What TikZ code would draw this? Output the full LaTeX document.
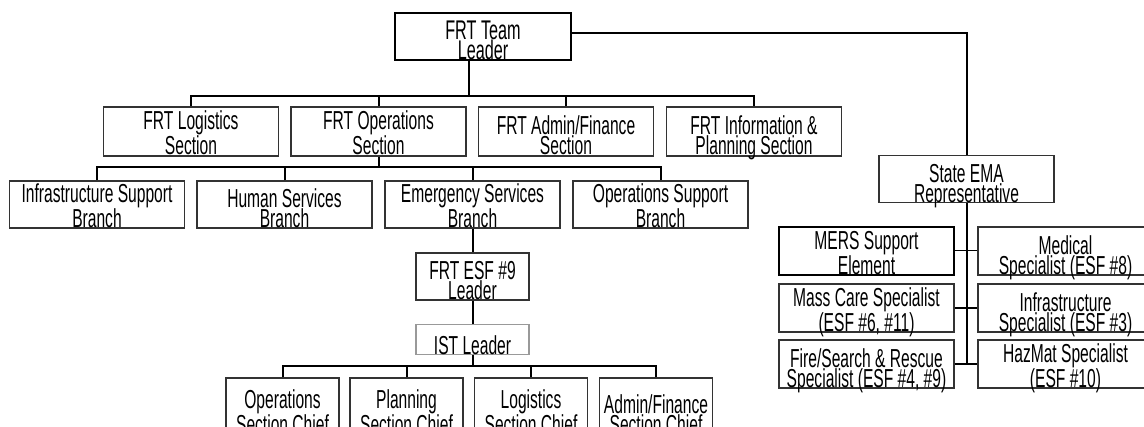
\documentclass[tikz,border=0pt]{standalone}
\usepackage{fontspec}
\setmainfont[FakeStretch=0.6]{Liberation Sans}
\usepackage{tikz}

\begin{document}
\begin{tikzpicture}[x=1pt,y=-1pt,
  unit/.style={draw=black!80,line width=1.3pt,align=center,inner sep=0pt,
    font=\fontsize{26}{17}\selectfont,text height=47pt,text depth=0pt,
    minimum width=175pt,minimum height=47pt},
  small/.style={unit,minimum width=113pt},
  head/.style={unit,draw=black,line width=2.2pt},
  conn/.style={line width=2pt},
  thin/.style={line width=1pt}]
\useasboundingbox (0,0) rectangle (1144,427);
% top
\node[head,minimum width=176pt,font=\fontsize{27}{17}\selectfont] (lead) at (483,36.5) {FRT Team\\Leader};
% sections
\node[unit,minimum height=49pt] (sLog) at (191,131.5) {FRT Logistics\\Section};
\node[unit,minimum height=49pt] (sOps) at (378.5,131.5) {FRT Operations\\Section};
\node[unit,minimum height=49pt] (sAdm) at (566,131.5) {FRT Admin/Finance\\Section};
\node[unit,minimum height=49pt] (sInf) at (754,131.5) {FRT Information \&\\Planning Section};
% branches
\node[unit] (bInf) at (97,204.5) {Infrastructure Support\\Branch};
\node[unit] (bHum) at (284.5,204.5) {Human Services\\Branch};
\node[unit] (bEmg) at (472.5,204.5) {Emergency Services\\Branch};
\node[unit] (bOps) at (660.5,204.5) {Operations Support\\Branch};
% esf 9
\node[small] (esf) at (472.5,276.5) {FRT ESF \#9\\Leader};
\node[small,draw=black!40,text height=30pt,minimum height=29pt] (ist) at (472.5,339.5) {IST Leader};
\node[small,minimum height=64pt] (cOps) at (282.5,410) {Operations\\Section Chief};
\node[small,minimum height=64pt] (cPln) at (406.5,410) {Planning\\Section Chief};
\node[small,minimum height=64pt] (cLog) at (531,410) {Logistics\\Section Chief};
\node[small,minimum height=64pt] (cAdm) at (656,410) {Admin/Finance\\Section Chief};
% state side
\node[unit,minimum height=46pt] (ema) at (966.5,179) {State EMA\\Representative};
\node[head,line width=2.6pt,minimum height=48pt] (mers) at (866.5,251) {MERS Support\\Element};
\node[unit,minimum height=48pt] (med) at (1065.5,251) {Medical\\Specialist (ESF \#8)};
\node[unit,minimum height=48pt] (mass) at (866.5,308) {Mass Care Specialist\\(ESF \#6, \#11)};
\node[unit,minimum height=48pt] (infr) at (1065.5,308) {Infrastructure\\Specialist (ESF \#3)};
\node[unit,minimum height=48pt] (fire) at (866.5,364) {Fire/Search \& Rescue\\Specialist (ESF \#4, \#9)};
\node[unit,minimum height=48pt] (haz) at (1065.5,364) {HazMat Specialist\\(ESF \#10)};

% connectors
\coordinate (secBus) at (469,96);
\coordinate (brBus) at (378.5,167);
\coordinate (chBus) at (472.5,366);
\coordinate (emaCol) at (966.5,363);
\draw[conn] (lead.south -| secBus) -- (secBus);
\draw[conn] (sLog.north) |- (secBus) -| (sInf.north);
\foreach \n in {sOps,sAdm} \draw[conn] (\n.north) -- (\n.north |- secBus);
\draw[conn] (sOps.south) -- (brBus);
\draw[conn] (bInf.north) |- (brBus) -| (bOps.north);
\foreach \n in {bHum,bEmg} \draw[conn] (\n.north) -- (\n.north |- brBus);
\draw[conn] (bEmg.south) -- (esf.north);
\draw[conn] (esf.south) -- (ist.north);
\draw[conn] (ist.south) -- (chBus);
\draw[conn] (cOps.north) |- (chBus) -| (cAdm.north);
\foreach \n in {cPln,cLog} \draw[conn] (\n.north) -- (\n.north |- chBus);
\draw[conn] (lead.east |- 0,33) -| (ema.north);
\draw[conn] (ema.south) -- (emaCol);
\draw[thin] (mers.east) -- (med.west);
\draw[conn] (mass.east) -- (infr.west);
\draw[conn] (fire.east) -- (haz.west);
\end{tikzpicture}
\end{document}
